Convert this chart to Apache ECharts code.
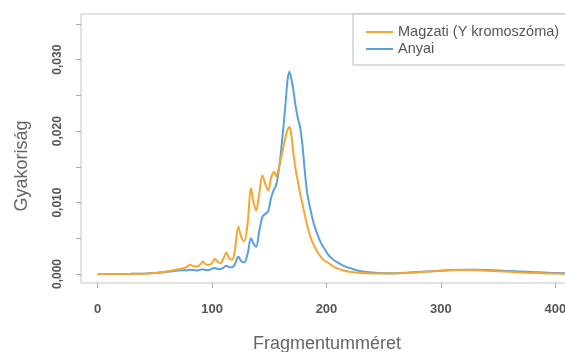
<!DOCTYPE html>
<html>
<head>
<meta charset="utf-8">
<script src="https://cdn.jsdelivr.net/npm/echarts@6/dist/echarts.min.js"></script>
<style>html,body{margin:0;padding:0;background:#fff}#c{width:565px;height:352px}</style>
</head>
<body>
<div id="c"></div>
<script>
// Fragment size (bp)
const sizes = [0,10,20,30,40,50,55,60,65,70,75,78,81,84,87,90,92,95,98,100,102.5,105,107.5,110,112.5,115,117.5,120,123,125.5,128,131,134,136,138.5,141,144,146.5,149,151.5,154,156,158,160,162,164,166,167.5,169,171,173,175,177,179,181,183,186,189,192,195,198,202,206,210,215,220,225,230,240,250,260,270,280,290,300,310,320,330,340,350,360,370,380,390,400,410];
// Fetal (Y chromosome) frequency, x1e-3
const fetal = [0,0,0,0.02,0.05,0.15,0.25,0.35,0.5,0.65,0.8,1.0,1.3,1.05,1.05,1.4,1.75,1.3,1.3,1.6,2.1,1.7,1.55,2.2,3.0,2.2,2.0,3.5,6.6,5.2,4.6,7.0,12.0,10.2,8.9,11.0,13.8,12.6,11.7,13.4,14.3,13.7,14.6,16.0,17.5,19.0,20.2,20.6,19.8,17.0,14.6,13.0,11.2,9.8,8.3,6.9,5.2,4.0,3.1,2.4,1.9,1.5,1.05,0.75,0.5,0.33,0.22,0.14,0.07,0.06,0.08,0.15,0.25,0.35,0.45,0.52,0.55,0.52,0.45,0.38,0.3,0.22,0.15,0.1,0.06,0.04];
// Maternal frequency, x1e-3
const maternal = [0,0,0,0.02,0.05,0.13,0.2,0.28,0.38,0.48,0.52,0.5,0.6,0.55,0.5,0.6,0.65,0.55,0.6,0.75,0.85,0.7,0.7,0.9,1.15,0.95,0.95,1.4,2.4,1.8,1.6,2.8,5.0,4.3,3.8,5.8,8.0,8.4,8.8,10.6,11.8,12.4,14.2,16.8,20.0,23.5,27.2,28.3,27.5,25.8,23.5,21.8,20.5,18.0,14.5,11.5,9.0,7.0,5.6,4.4,3.6,2.6,2.0,1.6,1.15,0.85,0.6,0.4,0.2,0.12,0.12,0.17,0.27,0.37,0.47,0.55,0.6,0.6,0.56,0.5,0.43,0.35,0.27,0.2,0.13,0.09];
const xTicks = [0,100,200,300,400];
const yTicks = [0,0.005,0.01,0.015,0.02,0.025,0.03,0.035];
const yLabels = [0,0.01,0.02,0.03];
const seriesNames = ['Magzati (Y kromoszóma)','Anyai'];

const fetalPts = sizes.map((s,i)=>[s, fetal[i]/1000]);
const maternalPts = sizes.map((s,i)=>[s, maternal[i]/1000]);

const chart = echarts.init(document.getElementById('c'), null, {renderer:'canvas'});
const lbl = {color:'#555', fontFamily:'Liberation Sans, Arial, sans-serif', fontWeight:'bold'};
chart.setOption({
  animation:false,
  backgroundColor:'#fff',
  grid:{left:81, top:14, right:-8, bottom:69, show:true, borderColor:'#c4c4c4', borderWidth:1, containLabel:false, outerBoundsMode:'none'},
  xAxis:{
    type:'value', min:-14.6, max:415.5,
    name:'Fragmentumméret', nameLocation:'middle', nameGap:52,
    nameTextStyle:{fontSize:18, color:'#666', fontFamily:'Liberation Sans, Arial, sans-serif'},
    axisLine:{show:false, onZero:false},
    splitLine:{show:false},
    axisTick:{show:true, length:5, lineStyle:{color:'#aaa'}, customValues:xTicks},
    axisLabel:Object.assign({fontSize:13, margin:20, customValues:xTicks}, lbl)
  },
  yAxis:{
    type:'value', min:-0.00126, max:0.0364,
    axisLine:{show:false, onZero:false},
    splitLine:{show:false},
    axisTick:{show:true, length:5, lineStyle:{color:'#aaa'}, customValues:yTicks},
    axisLabel:Object.assign({fontSize:12, margin:17, rotate:90, customValues:yLabels,
      formatter:v=>v.toFixed(3).replace('.',',')}, lbl)
  },
  graphic:[{type:'text', x:22, y:166, rotation:Math.PI/2,
    style:{text:'Gyakoriság', fontSize:18, fill:'#666', fontFamily:'Liberation Sans, Arial, sans-serif', textAlign:'center', textVerticalAlign:'middle'}}],
  legend:{
    data:seriesNames, orient:'vertical', left:353, top:14, icon:'rect',
    padding:[10.5,20,8.5,13], itemGap:2, itemWidth:27, itemHeight:2,
    backgroundColor:'#fff', borderColor:'#bbb', borderWidth:1,
    textStyle:{fontSize:14.5, lineHeight:15, color:'#555', fontFamily:'Liberation Sans, Arial, sans-serif'}
  },
  series:[
    {name:seriesNames[1], type:'line', data:maternalPts, symbol:'none', smooth:0.35, lineStyle:{width:2, color:'#5AA0DA'}, itemStyle:{color:'#5AA0DA'}},
    {name:seriesNames[0], type:'line', data:fetalPts, symbol:'none', smooth:0.35, lineStyle:{width:2, color:'#F6A531'}, itemStyle:{color:'#F6A531'}}
  ]
});
</script>
</body>
</html>
